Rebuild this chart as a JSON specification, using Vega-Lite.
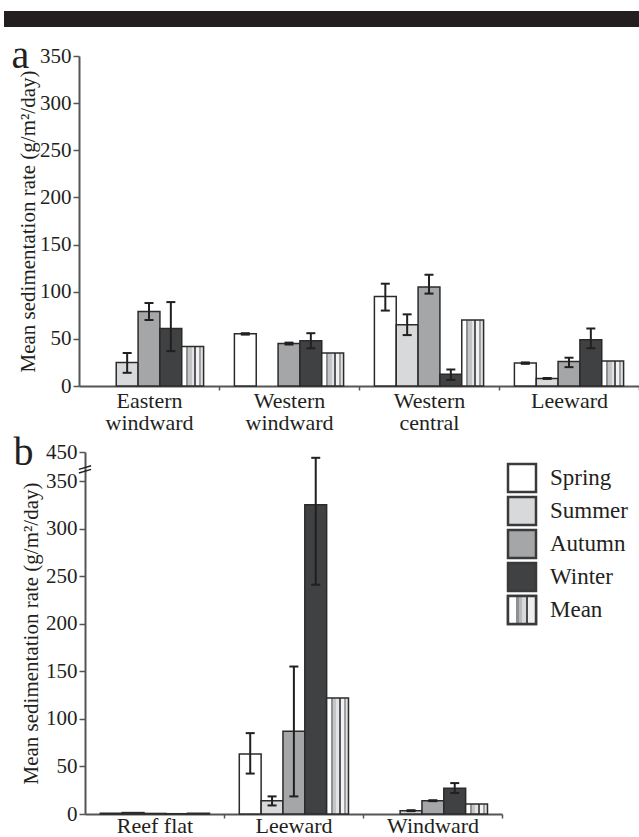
{
  "$schema": "https://vega.github.io/schema/vega-lite/v6.json",
  "background": "white",
  "padding": {"left": 4, "top": 11, "right": 0, "bottom": 0},
  "config": {
    "view": {"stroke": null},
    "font": "Liberation Serif",
    "text": {"font": "Liberation Serif"},
    "axis": {
      "labelFont": "Liberation Serif", "titleFont": "Liberation Serif",
      "labelColor": "#231f20", "titleColor": "#231f20",
      "domainColor": "#555555", "domainWidth": 2, "tickColor": "#555555", "tickWidth": 1.5,
      "grid": false, "titleFontWeight": "normal"
    },
    "title": {"font": "Liberation Serif", "fontWeight": "normal", "color": "#231f20"}
  },
  "columns": 1,
  "align": "none",
  "spacing": 0,
  "concat": [
    {
      "width": 560, "height": 25,
      "data": {"values": [{"x0": 0, "x1": 1, "y0": 0, "y1": 1}]},
      "mark": {"type": "rect", "color": "#231f20"},
      "encoding": {
        "x": {"field": "x0", "type": "quantitative", "scale": {"domain": [0, 1], "range": [-75, 560]}, "axis": null},
        "x2": {"field": "x1"},
        "y": {"field": "y0", "type": "quantitative", "scale": {"domain": [0, 1], "range": [16, 0]}, "axis": null},
        "y2": {"field": "y1"}
      }
    },
    {
      "width": 560, "height": 330,
      "title": {"text": "a", "anchor": "start", "frame": "bounds", "fontSize": 40, "offset": 0, "dy": 31, "dx": -6},
      "data": {"values": [
        {"site": "Eastern windward", "season": "Summer", "value": 25, "lo": 14, "hi": 35},
        {"site": "Eastern windward", "season": "Autumn", "value": 79, "lo": 70, "hi": 88},
        {"site": "Eastern windward", "season": "Winter", "value": 61, "lo": 37, "hi": 89},
        {"site": "Eastern windward", "season": "Mean", "value": 42, "lo": null, "hi": null},
        {"site": "Western windward", "season": "Spring", "value": 55.5, "lo": 54.5, "hi": 56},
        {"site": "Western windward", "season": "Autumn", "value": 45, "lo": 44, "hi": 46},
        {"site": "Western windward", "season": "Winter", "value": 48, "lo": 40, "hi": 56},
        {"site": "Western windward", "season": "Mean", "value": 35, "lo": null, "hi": null},
        {"site": "Western central", "season": "Spring", "value": 95, "lo": 80, "hi": 108.5},
        {"site": "Western central", "season": "Summer", "value": 65, "lo": 54, "hi": 76},
        {"site": "Western central", "season": "Autumn", "value": 105, "lo": 98, "hi": 118},
        {"site": "Western central", "season": "Winter", "value": 12.5, "lo": 6.5, "hi": 17.5},
        {"site": "Western central", "season": "Mean", "value": 70, "lo": null, "hi": null},
        {"site": "Leeward", "season": "Spring", "value": 24.5, "lo": 23.5, "hi": 25},
        {"site": "Leeward", "season": "Summer", "value": 8, "lo": 7.5, "hi": 8.5},
        {"site": "Leeward", "season": "Autumn", "value": 26, "lo": 20, "hi": 30},
        {"site": "Leeward", "season": "Winter", "value": 49, "lo": 40, "hi": 61},
        {"site": "Leeward", "season": "Mean", "value": 26.5, "lo": null, "hi": null}
      ]},
      "layer": [
        {
          "transform": [{"filter": "datum.season !== 'Mean'"}],
          "mark": {"type": "bar", "stroke": "#2b2b2b", "strokeWidth": 1.5},
          "encoding": {
            "x": {"field": "site", "type": "nominal",
              "scale": {"domain": ["Eastern windward", "Western windward", "Western central", "Leeward"], "paddingInner": 0.22, "paddingOuter": 0.11},
              "axis": {"title": null, "labelAngle": 0, "tickOffset": 70, "labelOffset": -70, "tickSize": 4, "labelFont": "Liberation Serif", "labelFontSize": 22, "labelLineHeight": 22, "labelExpr": "split(datum.value, ' ')", "labelPadding": 0}},
            "xOffset": {"field": "season", "type": "nominal", "scale": {"domain": ["Spring", "Summer", "Autumn", "Winter", "Mean"], "paddingInner": 0, "paddingOuter": 0}},
            "y": {"field": "value", "type": "quantitative",
              "scale": {"domain": [0, 350], "nice": false},
              "axis": {"title": "Mean sedimentation rate (g/m²/day)", "values": [0, 50, 100, 150, 200, 250, 300, 350], "tickSize": 6, "labelFont": "Liberation Serif", "titleFont": "Liberation Serif", "labelFontSize": 21, "titleFontSize": 21, "labelPadding": 2, "titlePadding": 1}},
            "fill": {"field": "season", "type": "nominal", "legend": null,
              "scale": {"domain": ["Spring", "Summer", "Autumn", "Winter", "Mean"], "range": ["#ffffff", "#d8d9da", "#a5a6a8", "#404143", "#cccccc"]}}
          }
        },
        {
          "transform": [{"filter": "datum.season === 'Mean'"}],
          "mark": {"type": "bar", "stroke": "#2b2b2b", "strokeWidth": 1.5,
            "fill": {"gradient": "linear", "x1": 0, "y1": 0, "x2": 1, "y2": 0, "stops": [
              {"offset": 0, "color": "#ffffff"}, {"offset": 0.18, "color": "#ffffff"},
              {"offset": 0.18, "color": "#8f9092"}, {"offset": 0.3, "color": "#8f9092"},
              {"offset": 0.3, "color": "#c4c5c7"}, {"offset": 0.45, "color": "#c4c5c7"},
              {"offset": 0.45, "color": "#e2e3e4"}, {"offset": 0.58, "color": "#e2e3e4"},
              {"offset": 0.58, "color": "#56575a"}, {"offset": 0.66, "color": "#56575a"},
              {"offset": 0.66, "color": "#f2f2f2"}, {"offset": 0.8, "color": "#f2f2f2"},
              {"offset": 0.8, "color": "#a0a1a3"}, {"offset": 0.9, "color": "#a0a1a3"},
              {"offset": 0.9, "color": "#e0e0e0"}, {"offset": 1, "color": "#e0e0e0"}]}},
          "encoding": {
            "x": {"field": "site", "type": "nominal"},
            "xOffset": {"field": "season", "type": "nominal"},
            "y": {"field": "value", "type": "quantitative"}
          }
        },
        {
          "transform": [{"filter": "isValid(datum.lo)"}],
          "mark": {"type": "rule", "color": "#231f20", "strokeWidth": 2},
          "encoding": {
            "x": {"field": "site", "type": "nominal"},
            "xOffset": {"field": "season", "type": "nominal"},
            "y": {"field": "lo", "type": "quantitative"},
            "y2": {"field": "hi"}
          }
        },
        {
          "transform": [{"filter": "isValid(datum.lo)"}],
          "mark": {"type": "tick", "color": "#231f20", "thickness": 2, "size": 9, "opacity": 1},
          "encoding": {
            "x": {"field": "site", "type": "nominal"},
            "xOffset": {"field": "season", "type": "nominal"},
            "y": {"field": "lo", "type": "quantitative"}
          }
        },
        {
          "transform": [{"filter": "isValid(datum.hi)"}],
          "mark": {"type": "tick", "color": "#231f20", "thickness": 2, "size": 9, "opacity": 1},
          "encoding": {
            "x": {"field": "site", "type": "nominal"},
            "xOffset": {"field": "season", "type": "nominal"},
            "y": {"field": "hi", "type": "quantitative"}
          }
        }
      ]
    },
    {
      "hconcat": [
        {
          "width": 423, "height": 362,
          "title": {"text": "b", "anchor": "start", "frame": "bounds", "fontSize": 40, "offset": 0, "dy": 32, "dx": -7},
          "data": {"values": [
            {"site": "Reef flat", "season": "Spring", "value": 0.8, "lo": null, "hi": null},
            {"site": "Reef flat", "season": "Summer", "value": 1.5, "lo": null, "hi": null},
            {"site": "Reef flat", "season": "Autumn", "value": 0.6, "lo": null, "hi": null},
            {"site": "Reef flat", "season": "Winter", "value": 0.3, "lo": null, "hi": null},
            {"site": "Reef flat", "season": "Mean", "value": 0.8, "lo": null, "hi": null},
            {"site": "Leeward", "season": "Spring", "value": 63, "lo": 42.5, "hi": 85},
            {"site": "Leeward", "season": "Summer", "value": 14, "lo": 9, "hi": 18.5},
            {"site": "Leeward", "season": "Autumn", "value": 87, "lo": 18.5, "hi": 155},
            {"site": "Leeward", "season": "Winter", "value": 325, "lo": 241, "hi": 430},
            {"site": "Leeward", "season": "Mean", "value": 122, "lo": null, "hi": null},
            {"site": "Windward", "season": "Summer", "value": 3.5, "lo": 3, "hi": 4},
            {"site": "Windward", "season": "Autumn", "value": 14, "lo": 13.5, "hi": 14.5},
            {"site": "Windward", "season": "Winter", "value": 27, "lo": 22, "hi": 32.5},
            {"site": "Windward", "season": "Mean", "value": 10.5, "lo": null, "hi": null}
          ]},
          "layer": [
            {
              "transform": [{"filter": "datum.season !== 'Mean'"}],
              "mark": {"type": "bar", "stroke": "#2b2b2b", "strokeWidth": 1.5},
              "encoding": {
                "x": {"field": "site", "type": "nominal",
                  "scale": {"domain": ["Reef flat", "Leeward", "Windward"], "range": [6, 423], "paddingInner": 0.22, "paddingOuter": 0.11},
                  "axis": {"title": null, "labelAngle": 0, "tickOffset": 69.5, "labelOffset": -69.5, "tickSize": 4, "labelFont": "Liberation Serif", "labelFontSize": 22, "labelPadding": -3}},
                "xOffset": {"field": "season", "type": "nominal", "scale": {"domain": ["Spring", "Summer", "Autumn", "Winter", "Mean"], "paddingInner": 0, "paddingOuter": 0}},
                "y": {"field": "value", "type": "quantitative",
                  "scale": {"domain": [0, 350, 450], "range": [362, 29, 0], "nice": false, "zero": false},
                  "axis": {"title": "Mean sedimentation rate (g/m²/day)", "values": [0, 50, 100, 150, 200, 250, 300, 350, 450], "offset": -6, "tickSize": 6, "labelFont": "Liberation Serif", "titleFont": "Liberation Serif", "labelFontSize": 21, "titleFontSize": 21, "labelPadding": 2, "titlePadding": 4}},
                "fill": {"field": "season", "type": "nominal", "legend": null,
                  "scale": {"domain": ["Spring", "Summer", "Autumn", "Winter", "Mean"], "range": ["#ffffff", "#d8d9da", "#a5a6a8", "#404143", "#cccccc"]}}
              }
            },
            {
              "transform": [{"filter": "datum.season === 'Mean'"}],
              "mark": {"type": "bar", "stroke": "#2b2b2b", "strokeWidth": 1.5,
                "fill": {"gradient": "linear", "x1": 0, "y1": 0, "x2": 1, "y2": 0, "stops": [
                  {"offset": 0, "color": "#ffffff"}, {"offset": 0.18, "color": "#ffffff"},
                  {"offset": 0.18, "color": "#8f9092"}, {"offset": 0.3, "color": "#8f9092"},
                  {"offset": 0.3, "color": "#c4c5c7"}, {"offset": 0.45, "color": "#c4c5c7"},
                  {"offset": 0.45, "color": "#e2e3e4"}, {"offset": 0.58, "color": "#e2e3e4"},
                  {"offset": 0.58, "color": "#56575a"}, {"offset": 0.66, "color": "#56575a"},
                  {"offset": 0.66, "color": "#f2f2f2"}, {"offset": 0.8, "color": "#f2f2f2"},
                  {"offset": 0.8, "color": "#a0a1a3"}, {"offset": 0.9, "color": "#a0a1a3"},
                  {"offset": 0.9, "color": "#e0e0e0"}, {"offset": 1, "color": "#e0e0e0"}]}},
              "encoding": {
                "x": {"field": "site", "type": "nominal"},
                "xOffset": {"field": "season", "type": "nominal"},
                "y": {"field": "value", "type": "quantitative"}
              }
            },
            {
              "transform": [{"filter": "isValid(datum.lo)"}],
              "mark": {"type": "rule", "color": "#231f20", "strokeWidth": 2},
              "encoding": {
                "x": {"field": "site", "type": "nominal"},
                "xOffset": {"field": "season", "type": "nominal"},
                "y": {"field": "lo", "type": "quantitative"},
                "y2": {"field": "hi"}
              }
            },
            {
              "transform": [{"filter": "isValid(datum.lo)"}],
              "mark": {"type": "tick", "color": "#231f20", "thickness": 2, "size": 9, "opacity": 1},
              "encoding": {
                "x": {"field": "site", "type": "nominal"},
                "xOffset": {"field": "season", "type": "nominal"},
                "y": {"field": "lo", "type": "quantitative"}
              }
            },
            {
              "transform": [{"filter": "isValid(datum.hi)"}],
              "mark": {"type": "tick", "color": "#231f20", "thickness": 2, "size": 9, "opacity": 1},
              "encoding": {
                "x": {"field": "site", "type": "nominal"},
                "xOffset": {"field": "season", "type": "nominal"},
                "y": {"field": "hi", "type": "quantitative"}
              }
            },
            {
              "data": {"values": [{"brk": 390}]},
              "mark": {"type": "point", "shape": "M -1 0 L 1 -0.6 M -1 0.6 L 1 0", "filled": false, "stroke": "#231f20", "strokeWidth": 1.5, "size": 150, "opacity": 1},
              "encoding": {
                "x": {"value": 6},
                "y": {"field": "brk", "type": "quantitative"}
              }
            }
          ]
        },
        {
          "width": 130, "height": {"step": 33},
          "data": {"values": [{"season": "Spring"}, {"season": "Summer"}, {"season": "Autumn"}, {"season": "Winter"}, {"season": "Mean"}]},
          "encoding": {
            "y": {"field": "season", "type": "nominal", "sort": null,
              "scale": {"domain": ["Spring", "Summer", "Autumn", "Winter", "Mean"], "paddingInner": 0.15, "paddingOuter": 0.36}, "axis": null}
          },
          "layer": [
            {
              "mark": {"type": "rect", "stroke": "#3a3a3a", "strokeWidth": 2.5},
              "encoding": {
                "x": {"datum": 0, "type": "quantitative", "scale": {"domain": [0, 130]}, "axis": null},
                "x2": {"datum": 28},
                "fill": {"field": "season", "type": "nominal", "legend": null,
                  "scale": {"domain": ["Spring", "Summer", "Autumn", "Winter", "Mean"], "range": ["#ffffff", "#d8d9da", "#a5a6a8", "#404143", "#cccccc"]}}
              }
            },
            {
              "transform": [{"filter": "datum.season === 'Mean'"}],
              "mark": {"type": "rect", "stroke": "#3a3a3a", "strokeWidth": 2.5,
                "fill": {"gradient": "linear", "x1": 0, "y1": 0, "x2": 1, "y2": 0, "stops": [
                  {"offset": 0, "color": "#ffffff"}, {"offset": 0.3, "color": "#ffffff"},
                  {"offset": 0.3, "color": "#8f9092"}, {"offset": 0.38, "color": "#8f9092"},
                  {"offset": 0.38, "color": "#b8b9bb"}, {"offset": 0.5, "color": "#b8b9bb"},
                  {"offset": 0.5, "color": "#d8d9da"}, {"offset": 0.64, "color": "#d8d9da"},
                  {"offset": 0.64, "color": "#4a4b4d"}, {"offset": 0.72, "color": "#4a4b4d"},
                  {"offset": 0.72, "color": "#eeeeee"}, {"offset": 1, "color": "#eeeeee"}]}},
              "encoding": {
                "x": {"datum": 0, "type": "quantitative"},
                "x2": {"datum": 28}
              }
            },
            {
              "mark": {"type": "text", "align": "left", "baseline": "middle", "fontSize": 23, "font": "Liberation Serif", "color": "#231f20"},
              "encoding": {
                "x": {"datum": 42, "type": "quantitative"},
                "text": {"field": "season"}
              }
            }
          ]
        }
      ],
      "spacing": 3
    }
  ]
}
